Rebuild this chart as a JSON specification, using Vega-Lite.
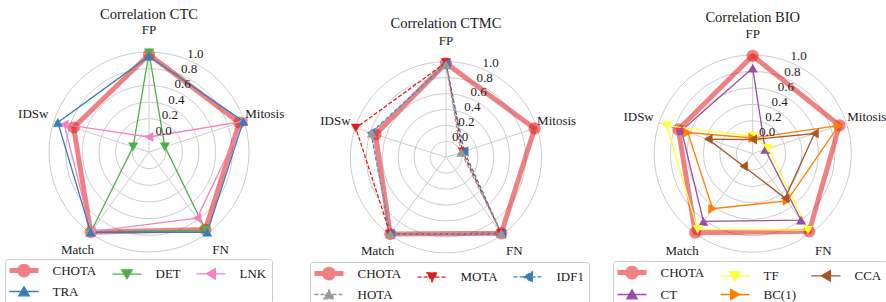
{
"$schema": "https://vega.github.io/schema/vega-lite/v6.json",
"padding": 0,
"background": "white",
"spacing": 0,
"config": {"view": {"stroke": null}, "font": "Liberation Serif, Times New Roman, DejaVu Serif, serif",
  "text": {"font": "Liberation Serif, Times New Roman, DejaVu Serif, serif", "color": "#1a1a1a"},
  "legend": {"labelFont": "Liberation Serif, Times New Roman, DejaVu Serif, serif", "labelFontSize": 13, "labelColor": "#1a1a1a", "symbolSize": 196, "columnPadding": 12, "rowPadding": -1, "labelOffset": 22, "padding": 5, "strokeColor": "#cccccc", "fillColor": "#ffffff", "cornerRadius": 3, "symbolOffset": 7.5, "labelLimit": 0, "gridAlign": "each"}},
"datasets": {
 "ticks": [{"t": 0.0}, {"t": 0.2}, {"t": 0.4}, {"t": 0.6}, {"t": 0.8}, {"t": 1.0}],
 "aspects": [{"aspect": "FP"}, {"aspect": "Mitosis"}, {"aspect": "FN"}, {"aspect": "Match"}, {"aspect": "IDSw"}],
 "ctc": [
  {"metric": "CHOTA", "aspect": "FP", "value": 0.97}, {"metric": "CHOTA", "aspect": "Mitosis", "value": 0.94}, {"metric": "CHOTA", "aspect": "FN", "value": 0.95}, {"metric": "CHOTA", "aspect": "Match", "value": 0.99}, {"metric": "CHOTA", "aspect": "IDSw", "value": 0.75},
  {"metric": "DET", "aspect": "FP", "value": 0.99}, {"metric": "DET", "aspect": "Mitosis", "value": 0.0}, {"metric": "DET", "aspect": "FN", "value": 0.96}, {"metric": "DET", "aspect": "Match", "value": 0.99}, {"metric": "DET", "aspect": "IDSw", "value": 0.0},
  {"metric": "LNK", "aspect": "FP", "value": -0.02}, {"metric": "LNK", "aspect": "Mitosis", "value": 0.99}, {"metric": "LNK", "aspect": "FN", "value": 0.78}, {"metric": "LNK", "aspect": "Match", "value": 0.98}, {"metric": "LNK", "aspect": "IDSw", "value": 0.87},
  {"metric": "TRA", "aspect": "FP", "value": 0.95}, {"metric": "TRA", "aspect": "Mitosis", "value": 0.99}, {"metric": "TRA", "aspect": "FN", "value": 0.99}, {"metric": "TRA", "aspect": "Match", "value": 0.99}, {"metric": "TRA", "aspect": "IDSw", "value": 0.95}
 ],
 "ctmc": [
  {"metric": "CHOTA", "aspect": "FP", "value": 0.98}, {"metric": "CHOTA", "aspect": "Mitosis", "value": 0.97}, {"metric": "CHOTA", "aspect": "FN", "value": 0.98}, {"metric": "CHOTA", "aspect": "Match", "value": 0.99}, {"metric": "CHOTA", "aspect": "IDSw", "value": 0.73},
  {"metric": "MOTA", "aspect": "FP", "value": 0.99}, {"metric": "MOTA", "aspect": "Mitosis", "value": 0.02}, {"metric": "MOTA", "aspect": "FN", "value": 0.98}, {"metric": "MOTA", "aspect": "Match", "value": 0.99}, {"metric": "MOTA", "aspect": "IDSw", "value": 0.99},
  {"metric": "IDF1", "aspect": "FP", "value": 0.97}, {"metric": "IDF1", "aspect": "Mitosis", "value": 0.04}, {"metric": "IDF1", "aspect": "FN", "value": 0.99}, {"metric": "IDF1", "aspect": "Match", "value": 0.99}, {"metric": "IDF1", "aspect": "IDSw", "value": 0.79},
  {"metric": "HOTA", "aspect": "FP", "value": 0.96}, {"metric": "HOTA", "aspect": "Mitosis", "value": 0.0}, {"metric": "HOTA", "aspect": "FN", "value": 0.98}, {"metric": "HOTA", "aspect": "Match", "value": 0.99}, {"metric": "HOTA", "aspect": "IDSw", "value": 0.78}
 ],
 "bio": [
  {"metric": "CHOTA", "aspect": "FP", "value": 0.99}, {"metric": "CHOTA", "aspect": "Mitosis", "value": 0.91}, {"metric": "CHOTA", "aspect": "FN", "value": 0.97}, {"metric": "CHOTA", "aspect": "Match", "value": 0.99}, {"metric": "CHOTA", "aspect": "IDSw", "value": 0.75},
  {"metric": "CT", "aspect": "FP", "value": 0.84}, {"metric": "CT", "aspect": "Mitosis", "value": -0.04}, {"metric": "CT", "aspect": "FN", "value": 0.80}, {"metric": "CT", "aspect": "Match", "value": 0.82}, {"metric": "CT", "aspect": "IDSw", "value": 0.71},
  {"metric": "TF", "aspect": "FP", "value": 0.01}, {"metric": "TF", "aspect": "Mitosis", "value": 0.0}, {"metric": "TF", "aspect": "FN", "value": 0.95}, {"metric": "TF", "aspect": "Match", "value": 0.94}, {"metric": "TF", "aspect": "IDSw", "value": 0.90},
  {"metric": "BC(1)", "aspect": "FP", "value": -0.01}, {"metric": "BC(1)", "aspect": "Mitosis", "value": 0.90}, {"metric": "BC(1)", "aspect": "FN", "value": 0.51}, {"metric": "BC(1)", "aspect": "Match", "value": 0.63}, {"metric": "BC(1)", "aspect": "IDSw", "value": 0.63},
  {"metric": "CCA", "aspect": "FP", "value": -0.03}, {"metric": "CCA", "aspect": "Mitosis", "value": 0.59}, {"metric": "CCA", "aspect": "FN", "value": 0.47}, {"metric": "CCA", "aspect": "Match", "value": -0.01}, {"metric": "CCA", "aspect": "IDSw", "value": 0.37}
 ]
},
"resolve": {"scale": {"color": "independent", "shape": "independent", "size": "independent", "x": "independent", "y": "independent"}, "legend": {"color": "independent"}},
"hconcat": [
 {"width": 297, "height": 302,
  "layer": [
   {"data": {"name": "ticks"},
    "transform": [{"calculate": "datum.t+0.2", "as": "r"}, {"calculate": "0", "as": "cx"}],
    "mark": {"type": "point", "shape": "circle", "filled": false, "color": "#cccccc", "strokeWidth": 1, "opacity": 1},
    "encoding": {
     "x": {"field": "cx", "type": "quantitative", "scale": {"domain": [-1.788, 1.776], "nice": false, "zero": false}, "axis": null},
     "y": {"field": "cx", "type": "quantitative", "scale": {"domain": [-1.8, 1.824], "nice": false, "zero": false}, "axis": null},
     "size": {"field": "r", "type": "quantitative", "scale": {"type": "pow", "exponent": 2, "domain": [0, 1.2], "range": [0, 40000], "zero": true, "nice": false}, "legend": null}}},
   {"data": {"name": "aspects"},
    "transform": [{"calculate": "indexof(['FP','Mitosis','FN','Match','IDSw'], datum.aspect)", "as": "k"}, {"calculate": "PI/2 - datum.k*2*PI/5", "as": "th"}, {"calculate": "1.2*cos(datum.th)", "as": "sx"}, {"calculate": "1.2*sin(datum.th)", "as": "sy"}, {"calculate": "0", "as": "cx"}],
    "mark": {"type": "rule", "color": "#cccccc", "strokeWidth": 1},
    "encoding": {
     "x": {"field": "cx", "type": "quantitative", "scale": {"domain": [-1.788, 1.776], "nice": false, "zero": false}, "axis": null},
     "y": {"field": "cx", "type": "quantitative", "scale": {"domain": [-1.8, 1.824], "nice": false, "zero": false}, "axis": null},
     "x2": {"field": "sx"}, "y2": {"field": "sy"}}},
   {"data": {"name": "ctc"},
    "transform": [{"filter": "datum.metric === 'CHOTA'"}, {"calculate": "indexof(['FP','Mitosis','FN','Match','IDSw'], datum.aspect)", "as": "k"}, {"calculate": "PI/2 - datum.k*2*PI/5", "as": "th"}, {"calculate": "(datum.value+0.2)*cos(datum.th)", "as": "px"}, {"calculate": "(datum.value+0.2)*sin(datum.th)", "as": "py"}],
    "mark": {"type": "line", "interpolate": "linear-closed", "strokeWidth": 5, "opacity": 0.55, "strokeJoin": "round"},
    "encoding": {
     "x": {"field": "px", "type": "quantitative", "scale": {"domain": [-1.788, 1.776], "nice": false, "zero": false}, "axis": null},
     "y": {"field": "py", "type": "quantitative", "scale": {"domain": [-1.8, 1.824], "nice": false, "zero": false}, "axis": null},
     "order": {"field": "k", "type": "quantitative"},
     "color": {"field": "metric", "type": "nominal", "scale": {"domain": ["CHOTA", "LNK", "DET", "TRA"], "range": ["#e41a1c", "#f781bf", "#4daf4a", "#377eb8"]},
      "legend": {"orient": "none", "legendX": 5, "legendY": 259, "title": null, "columns": 3,
       "encoding": {"symbols": {
        "shape": {"value": {"expr": "datum.value==='CHOTA'?'M-2.07,0H2.07M0.62,0A0.62,0.62,0,1,1,-0.62,0A0.62,0.62,0,1,1,0.62,0Z':datum.value==='DET'?'M-2.07,0H2.07M-0.74,-0.62L0.74,-0.62L0,0.66Z':datum.value==='LNK'?'M-2.07,0H2.07M0.62,-0.74L0.62,0.74L-0.66,0Z':'M-2.07,0H2.07M-0.74,0.62L0.74,0.62L0,-0.66Z'"}},
        "fill": {"value": {"expr": "datum.value==='CHOTA'?'#e41a1c':datum.value==='DET'?'#4daf4a':datum.value==='LNK'?'#f781bf':'#377eb8'"}},
        "stroke": {"value": {"expr": "datum.value==='CHOTA'?'#e41a1c':datum.value==='DET'?'#4daf4a':datum.value==='LNK'?'#f781bf':'#377eb8'"}},
        "strokeWidth": {"value": {"expr": "datum.value==='CHOTA'?5:1.3"}},
        "opacity": {"value": {"expr": "datum.value==='CHOTA'?0.55:1"}},
        "size": {"value": 196}}}}}}},
   {"data": {"name": "ctc"},
    "transform": [{"filter": "datum.metric === 'CHOTA'"}, {"calculate": "indexof(['FP','Mitosis','FN','Match','IDSw'], datum.aspect)", "as": "k"}, {"calculate": "PI/2 - datum.k*2*PI/5", "as": "th"}, {"calculate": "(datum.value+0.2)*cos(datum.th)", "as": "px"}, {"calculate": "(datum.value+0.2)*sin(datum.th)", "as": "py"}],
    "mark": {"type": "point", "filled": true, "shape": "circle", "size": 150, "opacity": 0.55},
    "encoding": {
     "x": {"field": "px", "type": "quantitative", "scale": {"domain": [-1.788, 1.776], "nice": false, "zero": false}, "axis": null},
     "y": {"field": "py", "type": "quantitative", "scale": {"domain": [-1.8, 1.824], "nice": false, "zero": false}, "axis": null},
     "color": {"field": "metric", "type": "nominal", "scale": {"domain": ["CHOTA", "LNK", "DET", "TRA"], "range": ["#e41a1c", "#f781bf", "#4daf4a", "#377eb8"]}}}},
   {"data": {"name": "ctc"},
    "transform": [{"filter": "datum.metric !== 'CHOTA'"}, {"calculate": "indexof(['FP','Mitosis','FN','Match','IDSw'], datum.aspect)", "as": "k"}, {"calculate": "PI/2 - datum.k*2*PI/5", "as": "th"}, {"calculate": "(datum.value+0.2)*cos(datum.th)", "as": "px"}, {"calculate": "(datum.value+0.2)*sin(datum.th)", "as": "py"}],
    "mark": {"type": "line", "interpolate": "linear-closed", "strokeWidth": 1.3},
    "encoding": {
     "x": {"field": "px", "type": "quantitative", "scale": {"domain": [-1.788, 1.776], "nice": false, "zero": false}, "axis": null},
     "y": {"field": "py", "type": "quantitative", "scale": {"domain": [-1.8, 1.824], "nice": false, "zero": false}, "axis": null},
     "order": {"field": "k", "type": "quantitative"},
     "color": {"field": "metric", "type": "nominal", "scale": {"domain": ["CHOTA", "LNK", "DET", "TRA"], "range": ["#e41a1c", "#f781bf", "#4daf4a", "#377eb8"]}}}},
   {"data": {"name": "ctc"},
    "transform": [{"filter": "datum.metric !== 'CHOTA'"}, {"calculate": "indexof(['FP','Mitosis','FN','Match','IDSw'], datum.aspect)", "as": "k"}, {"calculate": "PI/2 - datum.k*2*PI/5", "as": "th"}, {"calculate": "(datum.value+0.2)*cos(datum.th)", "as": "px"}, {"calculate": "(datum.value+0.2)*sin(datum.th)", "as": "py"}],
    "mark": {"type": "point", "filled": true, "size": 100, "opacity": 1},
    "encoding": {
     "x": {"field": "px", "type": "quantitative", "scale": {"domain": [-1.788, 1.776], "nice": false, "zero": false}, "axis": null},
     "y": {"field": "py", "type": "quantitative", "scale": {"domain": [-1.8, 1.824], "nice": false, "zero": false}, "axis": null},
     "shape": {"field": "metric", "type": "nominal", "scale": {"domain": ["DET", "LNK", "TRA"], "range": ["triangle-down", "triangle-left", "triangle-up"]}, "legend": null},
     "color": {"field": "metric", "type": "nominal", "scale": {"domain": ["CHOTA", "LNK", "DET", "TRA"], "range": ["#e41a1c", "#f781bf", "#4daf4a", "#377eb8"]}}}},
   {"data": {"name": "aspects"},
    "transform": [{"calculate": "indexof(['FP','Mitosis','FN','Match','IDSw'], datum.aspect)", "as": "k"}, {"calculate": "PI/2 - datum.k*2*PI/5", "as": "th"}, {"calculate": "1.46*cos(datum.th)", "as": "lx"}, {"calculate": "1.46*sin(datum.th)", "as": "ly"}],
    "mark": {"type": "text", "fontSize": 13, "align": "center", "baseline": "middle", "font": "Liberation Serif, Times New Roman, DejaVu Serif, serif"},
    "encoding": {
     "x": {"field": "lx", "type": "quantitative", "scale": {"domain": [-1.788, 1.776], "nice": false, "zero": false}, "axis": null},
     "y": {"field": "ly", "type": "quantitative", "scale": {"domain": [-1.8, 1.824], "nice": false, "zero": false}, "axis": null},
     "text": {"field": "aspect", "type": "nominal"}}},
   {"data": {"name": "ticks"},
    "transform": [{"calculate": "(datum.t+0.2)*cos(PI*3/8)", "as": "tx"}, {"calculate": "(datum.t+0.2)*sin(PI*3/8)", "as": "ty"}],
    "mark": {"type": "text", "fontSize": 13, "align": "left", "baseline": "alphabetic", "dy": -2, "font": "Liberation Serif, Times New Roman, DejaVu Serif, serif"},
    "encoding": {
     "x": {"field": "tx", "type": "quantitative", "scale": {"domain": [-1.788, 1.776], "nice": false, "zero": false}, "axis": null},
     "y": {"field": "ty", "type": "quantitative", "scale": {"domain": [-1.8, 1.824], "nice": false, "zero": false}, "axis": null},
     "text": {"field": "t", "type": "quantitative", "format": ".1f"}}},
   {"data": {"values": [{"title": "Correlation CTC"}]},
    "transform": [{"calculate": "0", "as": "hx"}, {"calculate": "1.65", "as": "hy"}],
    "mark": {"type": "text", "fontSize": 14.5, "align": "center", "baseline": "middle", "font": "Liberation Serif, Times New Roman, DejaVu Serif, serif"},
    "encoding": {
     "x": {"field": "hx", "type": "quantitative", "scale": {"domain": [-1.788, 1.776], "nice": false, "zero": false}, "axis": null},
     "y": {"field": "hy", "type": "quantitative", "scale": {"domain": [-1.8, 1.824], "nice": false, "zero": false}, "axis": null},
     "text": {"field": "title", "type": "nominal"}}}
  ]},
 {"width": 303, "height": 302,
  "layer": [
   {"data": {"name": "ticks"},
    "transform": [{"calculate": "datum.t+0.2", "as": "r"}, {"calculate": "0", "as": "cx"}],
    "mark": {"type": "point", "shape": "circle", "filled": false, "color": "#cccccc", "strokeWidth": 1, "opacity": 1},
    "encoding": {
     "x": {"field": "cx", "type": "quantitative", "scale": {"domain": [-1.870, 1.933], "nice": false, "zero": false}, "axis": null},
     "y": {"field": "cx", "type": "quantitative", "scale": {"domain": [-1.816, 1.974], "nice": false, "zero": false}, "axis": null},
     "size": {"field": "r", "type": "quantitative", "scale": {"type": "pow", "exponent": 2, "domain": [0, 1.2], "range": [0, 36557], "zero": true, "nice": false}, "legend": null}}},
   {"data": {"name": "aspects"},
    "transform": [{"calculate": "indexof(['FP','Mitosis','FN','Match','IDSw'], datum.aspect)", "as": "k"}, {"calculate": "PI/2 - datum.k*2*PI/5", "as": "th"}, {"calculate": "1.2*cos(datum.th)", "as": "sx"}, {"calculate": "1.2*sin(datum.th)", "as": "sy"}, {"calculate": "0", "as": "cx"}],
    "mark": {"type": "rule", "color": "#cccccc", "strokeWidth": 1},
    "encoding": {
     "x": {"field": "cx", "type": "quantitative", "scale": {"domain": [-1.870, 1.933], "nice": false, "zero": false}, "axis": null},
     "y": {"field": "cx", "type": "quantitative", "scale": {"domain": [-1.816, 1.974], "nice": false, "zero": false}, "axis": null},
     "x2": {"field": "sx"}, "y2": {"field": "sy"}}},
   {"data": {"name": "ctmc"},
    "transform": [{"filter": "datum.metric === 'CHOTA'"}, {"calculate": "indexof(['FP','Mitosis','FN','Match','IDSw'], datum.aspect)", "as": "k"}, {"calculate": "PI/2 - datum.k*2*PI/5", "as": "th"}, {"calculate": "(datum.value+0.2)*cos(datum.th)", "as": "px"}, {"calculate": "(datum.value+0.2)*sin(datum.th)", "as": "py"}],
    "mark": {"type": "line", "interpolate": "linear-closed", "strokeWidth": 5, "opacity": 0.55, "strokeJoin": "round"},
    "encoding": {
     "x": {"field": "px", "type": "quantitative", "scale": {"domain": [-1.870, 1.933], "nice": false, "zero": false}, "axis": null},
     "y": {"field": "py", "type": "quantitative", "scale": {"domain": [-1.816, 1.974], "nice": false, "zero": false}, "axis": null},
     "order": {"field": "k", "type": "quantitative"},
     "color": {"field": "metric", "type": "nominal", "scale": {"domain": ["CHOTA", "IDF1", "MOTA", "HOTA"], "range": ["#e41a1c", "#377eb8", "#e41a1c", "#999999"]},
      "legend": {"orient": "none", "legendX": 13, "legendY": 262, "title": null, "columns": 3,
       "encoding": {"symbols": {
        "shape": {"value": {"expr": "datum.value==='CHOTA'?'M-2.07,0H2.07M0.62,0A0.62,0.62,0,1,1,-0.62,0A0.62,0.62,0,1,1,0.62,0Z':datum.value==='MOTA'?'M-2.07,0H2.07M-0.74,-0.62L0.74,-0.62L0,0.66Z':datum.value==='IDF1'?'M-2.07,0H2.07M0.62,-0.74L0.62,0.74L-0.66,0Z':'M-2.07,0H2.07M-0.74,0.62L0.74,0.62L0,-0.66Z'"}},
        "fill": {"value": {"expr": "datum.value==='CHOTA'?'#e41a1c':datum.value==='MOTA'?'#e41a1c':datum.value==='IDF1'?'#377eb8':'#999999'"}},
        "stroke": {"value": {"expr": "datum.value==='CHOTA'?'#e41a1c':datum.value==='MOTA'?'#e41a1c':datum.value==='IDF1'?'#377eb8':'#999999'"}},
        "strokeWidth": {"value": {"expr": "datum.value==='CHOTA'?5:1.3"}},
        "strokeDash": {"value": {"expr": "datum.value==='CHOTA'?[1,0]:[4,2]"}},
        "opacity": {"value": {"expr": "datum.value==='CHOTA'?0.55:1"}},
        "size": {"value": 196}}}}}}},
   {"data": {"name": "ctmc"},
    "transform": [{"filter": "datum.metric === 'CHOTA'"}, {"calculate": "indexof(['FP','Mitosis','FN','Match','IDSw'], datum.aspect)", "as": "k"}, {"calculate": "PI/2 - datum.k*2*PI/5", "as": "th"}, {"calculate": "(datum.value+0.2)*cos(datum.th)", "as": "px"}, {"calculate": "(datum.value+0.2)*sin(datum.th)", "as": "py"}],
    "mark": {"type": "point", "filled": true, "shape": "circle", "size": 150, "opacity": 0.55},
    "encoding": {
     "x": {"field": "px", "type": "quantitative", "scale": {"domain": [-1.870, 1.933], "nice": false, "zero": false}, "axis": null},
     "y": {"field": "py", "type": "quantitative", "scale": {"domain": [-1.816, 1.974], "nice": false, "zero": false}, "axis": null},
     "color": {"field": "metric", "type": "nominal", "scale": {"domain": ["CHOTA", "IDF1", "MOTA", "HOTA"], "range": ["#e41a1c", "#377eb8", "#e41a1c", "#999999"]}}}},
   {"data": {"name": "ctmc"},
    "transform": [{"filter": "datum.metric !== 'CHOTA'"}, {"calculate": "indexof(['FP','Mitosis','FN','Match','IDSw'], datum.aspect)", "as": "k"}, {"calculate": "PI/2 - datum.k*2*PI/5", "as": "th"}, {"calculate": "(datum.value+0.2)*cos(datum.th)", "as": "px"}, {"calculate": "(datum.value+0.2)*sin(datum.th)", "as": "py"}],
    "mark": {"type": "line", "interpolate": "linear-closed", "strokeWidth": 1.3, "strokeDash": [4, 2]},
    "encoding": {
     "x": {"field": "px", "type": "quantitative", "scale": {"domain": [-1.870, 1.933], "nice": false, "zero": false}, "axis": null},
     "y": {"field": "py", "type": "quantitative", "scale": {"domain": [-1.816, 1.974], "nice": false, "zero": false}, "axis": null},
     "order": {"field": "k", "type": "quantitative"},
     "color": {"field": "metric", "type": "nominal", "scale": {"domain": ["CHOTA", "IDF1", "MOTA", "HOTA"], "range": ["#e41a1c", "#377eb8", "#e41a1c", "#999999"]}}}},
   {"data": {"name": "ctmc"},
    "transform": [{"filter": "datum.metric !== 'CHOTA'"}, {"calculate": "indexof(['FP','Mitosis','FN','Match','IDSw'], datum.aspect)", "as": "k"}, {"calculate": "PI/2 - datum.k*2*PI/5", "as": "th"}, {"calculate": "(datum.value+0.2)*cos(datum.th)", "as": "px"}, {"calculate": "(datum.value+0.2)*sin(datum.th)", "as": "py"}],
    "mark": {"type": "point", "filled": true, "size": 100, "opacity": 1},
    "encoding": {
     "x": {"field": "px", "type": "quantitative", "scale": {"domain": [-1.870, 1.933], "nice": false, "zero": false}, "axis": null},
     "y": {"field": "py", "type": "quantitative", "scale": {"domain": [-1.816, 1.974], "nice": false, "zero": false}, "axis": null},
     "shape": {"field": "metric", "type": "nominal", "scale": {"domain": ["MOTA", "IDF1", "HOTA"], "range": ["triangle-down", "triangle-left", "triangle-up"]}, "legend": null},
     "color": {"field": "metric", "type": "nominal", "scale": {"domain": ["CHOTA", "IDF1", "MOTA", "HOTA"], "range": ["#e41a1c", "#377eb8", "#e41a1c", "#999999"]}}}},
   {"data": {"name": "aspects"},
    "transform": [{"calculate": "indexof(['FP','Mitosis','FN','Match','IDSw'], datum.aspect)", "as": "k"}, {"calculate": "PI/2 - datum.k*2*PI/5", "as": "th"}, {"calculate": "1.46*cos(datum.th)", "as": "lx"}, {"calculate": "1.46*sin(datum.th)", "as": "ly"}],
    "mark": {"type": "text", "fontSize": 13, "align": "center", "baseline": "middle", "font": "Liberation Serif, Times New Roman, DejaVu Serif, serif"},
    "encoding": {
     "x": {"field": "lx", "type": "quantitative", "scale": {"domain": [-1.870, 1.933], "nice": false, "zero": false}, "axis": null},
     "y": {"field": "ly", "type": "quantitative", "scale": {"domain": [-1.816, 1.974], "nice": false, "zero": false}, "axis": null},
     "text": {"field": "aspect", "type": "nominal"}}},
   {"data": {"name": "ticks"},
    "transform": [{"calculate": "(datum.t+0.2)*cos(PI*3/8)", "as": "tx"}, {"calculate": "(datum.t+0.2)*sin(PI*3/8)", "as": "ty"}],
    "mark": {"type": "text", "fontSize": 13, "align": "left", "baseline": "alphabetic", "dy": -2, "font": "Liberation Serif, Times New Roman, DejaVu Serif, serif"},
    "encoding": {
     "x": {"field": "tx", "type": "quantitative", "scale": {"domain": [-1.870, 1.933], "nice": false, "zero": false}, "axis": null},
     "y": {"field": "ty", "type": "quantitative", "scale": {"domain": [-1.816, 1.974], "nice": false, "zero": false}, "axis": null},
     "text": {"field": "t", "type": "quantitative", "format": ".1f"}}},
   {"data": {"values": [{"title": "Correlation CTMC"}]},
    "transform": [{"calculate": "0", "as": "hx"}, {"calculate": "1.67", "as": "hy"}],
    "mark": {"type": "text", "fontSize": 14.5, "align": "center", "baseline": "middle", "font": "Liberation Serif, Times New Roman, DejaVu Serif, serif"},
    "encoding": {
     "x": {"field": "hx", "type": "quantitative", "scale": {"domain": [-1.870, 1.933], "nice": false, "zero": false}, "axis": null},
     "y": {"field": "hy", "type": "quantitative", "scale": {"domain": [-1.816, 1.974], "nice": false, "zero": false}, "axis": null},
     "text": {"field": "title", "type": "nominal"}}}
  ]},
 {"width": 286, "height": 302,
  "layer": [
   {"data": {"name": "ticks"},
    "transform": [{"calculate": "datum.t+0.2", "as": "r"}, {"calculate": "0", "as": "cx"}],
    "mark": {"type": "point", "shape": "circle", "filled": false, "color": "#cccccc", "strokeWidth": 1, "opacity": 1},
    "encoding": {
     "x": {"field": "cx", "type": "quantitative", "scale": {"domain": [-1.858, 1.622], "nice": false, "zero": false}, "axis": null},
     "y": {"field": "cx", "type": "quantitative", "scale": {"domain": [-1.806, 1.869], "nice": false, "zero": false}, "axis": null},
     "size": {"field": "r", "type": "quantitative", "scale": {"type": "pow", "exponent": 2, "domain": [0, 1.2], "range": [0, 38888], "zero": true, "nice": false}, "legend": null}}},
   {"data": {"name": "aspects"},
    "transform": [{"calculate": "indexof(['FP','Mitosis','FN','Match','IDSw'], datum.aspect)", "as": "k"}, {"calculate": "PI/2 - datum.k*2*PI/5", "as": "th"}, {"calculate": "1.2*cos(datum.th)", "as": "sx"}, {"calculate": "1.2*sin(datum.th)", "as": "sy"}, {"calculate": "0", "as": "cx"}],
    "mark": {"type": "rule", "color": "#cccccc", "strokeWidth": 1},
    "encoding": {
     "x": {"field": "cx", "type": "quantitative", "scale": {"domain": [-1.858, 1.622], "nice": false, "zero": false}, "axis": null},
     "y": {"field": "cx", "type": "quantitative", "scale": {"domain": [-1.806, 1.869], "nice": false, "zero": false}, "axis": null},
     "x2": {"field": "sx"}, "y2": {"field": "sy"}}},
   {"data": {"name": "bio"},
    "transform": [{"filter": "datum.metric === 'CHOTA'"}, {"calculate": "indexof(['FP','Mitosis','FN','Match','IDSw'], datum.aspect)", "as": "k"}, {"calculate": "PI/2 - datum.k*2*PI/5", "as": "th"}, {"calculate": "(datum.value+0.2)*cos(datum.th)", "as": "px"}, {"calculate": "(datum.value+0.2)*sin(datum.th)", "as": "py"}],
    "mark": {"type": "line", "interpolate": "linear-closed", "strokeWidth": 5, "opacity": 0.55, "strokeJoin": "round"},
    "encoding": {
     "x": {"field": "px", "type": "quantitative", "scale": {"domain": [-1.858, 1.622], "nice": false, "zero": false}, "axis": null},
     "y": {"field": "py", "type": "quantitative", "scale": {"domain": [-1.806, 1.869], "nice": false, "zero": false}, "axis": null},
     "order": {"field": "k", "type": "quantitative"},
     "color": {"field": "metric", "type": "nominal", "scale": {"domain": ["CHOTA", "CT", "TF", "BC(1)", "CCA"], "range": ["#e41a1c", "#984ea3", "#ffff33", "#ff7f00", "#a65628"]},
      "legend": {"orient": "none", "legendX": 13, "legendY": 261, "title": null, "columns": 3,
       "encoding": {"symbols": {
        "shape": {"value": {"expr": "datum.value==='CHOTA'?'M-2.07,0H2.07M0.62,0A0.62,0.62,0,1,1,-0.62,0A0.62,0.62,0,1,1,0.62,0Z':datum.value==='TF'?'M-2.07,0H2.07M-0.74,-0.62L0.74,-0.62L0,0.66Z':datum.value==='CCA'?'M-2.07,0H2.07M0.62,-0.74L0.62,0.74L-0.66,0Z':datum.value==='CT'?'M-2.07,0H2.07M-0.74,0.62L0.74,0.62L0,-0.66Z':'M-2.07,0H2.07M-0.62,-0.74L-0.62,0.74L0.66,0Z'"}},
        "fill": {"value": {"expr": "datum.value==='CHOTA'?'#e41a1c':datum.value==='TF'?'#ffff33':datum.value==='CCA'?'#a65628':datum.value==='CT'?'#984ea3':'#ff7f00'"}},
        "stroke": {"value": {"expr": "datum.value==='CHOTA'?'#e41a1c':datum.value==='TF'?'#ffff33':datum.value==='CCA'?'#a65628':datum.value==='CT'?'#984ea3':'#ff7f00'"}},
        "strokeWidth": {"value": {"expr": "datum.value==='CHOTA'?5:1.3"}},
        "opacity": {"value": {"expr": "datum.value==='CHOTA'?0.55:1"}},
        "size": {"value": 196}}}}}}},
   {"data": {"name": "bio"},
    "transform": [{"filter": "datum.metric === 'CHOTA'"}, {"calculate": "indexof(['FP','Mitosis','FN','Match','IDSw'], datum.aspect)", "as": "k"}, {"calculate": "PI/2 - datum.k*2*PI/5", "as": "th"}, {"calculate": "(datum.value+0.2)*cos(datum.th)", "as": "px"}, {"calculate": "(datum.value+0.2)*sin(datum.th)", "as": "py"}],
    "mark": {"type": "point", "filled": true, "shape": "circle", "size": 150, "opacity": 0.55},
    "encoding": {
     "x": {"field": "px", "type": "quantitative", "scale": {"domain": [-1.858, 1.622], "nice": false, "zero": false}, "axis": null},
     "y": {"field": "py", "type": "quantitative", "scale": {"domain": [-1.806, 1.869], "nice": false, "zero": false}, "axis": null},
     "color": {"field": "metric", "type": "nominal", "scale": {"domain": ["CHOTA", "CT", "TF", "BC(1)", "CCA"], "range": ["#e41a1c", "#984ea3", "#ffff33", "#ff7f00", "#a65628"]}}}},
   {"data": {"name": "bio"},
    "transform": [{"filter": "datum.metric !== 'CHOTA'"}, {"calculate": "indexof(['FP','Mitosis','FN','Match','IDSw'], datum.aspect)", "as": "k"}, {"calculate": "PI/2 - datum.k*2*PI/5", "as": "th"}, {"calculate": "(datum.value+0.2)*cos(datum.th)", "as": "px"}, {"calculate": "(datum.value+0.2)*sin(datum.th)", "as": "py"}],
    "mark": {"type": "line", "interpolate": "linear-closed", "strokeWidth": 1.3},
    "encoding": {
     "x": {"field": "px", "type": "quantitative", "scale": {"domain": [-1.858, 1.622], "nice": false, "zero": false}, "axis": null},
     "y": {"field": "py", "type": "quantitative", "scale": {"domain": [-1.806, 1.869], "nice": false, "zero": false}, "axis": null},
     "order": {"field": "k", "type": "quantitative"},
     "color": {"field": "metric", "type": "nominal", "scale": {"domain": ["CHOTA", "CT", "TF", "BC(1)", "CCA"], "range": ["#e41a1c", "#984ea3", "#ffff33", "#ff7f00", "#a65628"]}}}},
   {"data": {"name": "bio"},
    "transform": [{"filter": "datum.metric !== 'CHOTA'"}, {"calculate": "indexof(['FP','Mitosis','FN','Match','IDSw'], datum.aspect)", "as": "k"}, {"calculate": "PI/2 - datum.k*2*PI/5", "as": "th"}, {"calculate": "(datum.value+0.2)*cos(datum.th)", "as": "px"}, {"calculate": "(datum.value+0.2)*sin(datum.th)", "as": "py"}],
    "mark": {"type": "point", "filled": true, "size": 100, "opacity": 1},
    "encoding": {
     "x": {"field": "px", "type": "quantitative", "scale": {"domain": [-1.858, 1.622], "nice": false, "zero": false}, "axis": null},
     "y": {"field": "py", "type": "quantitative", "scale": {"domain": [-1.806, 1.869], "nice": false, "zero": false}, "axis": null},
     "shape": {"field": "metric", "type": "nominal", "scale": {"domain": ["TF", "CCA", "CT", "BC(1)"], "range": ["triangle-down", "triangle-left", "triangle-up", "triangle-right"]}, "legend": null},
     "color": {"field": "metric", "type": "nominal", "scale": {"domain": ["CHOTA", "CT", "TF", "BC(1)", "CCA"], "range": ["#e41a1c", "#984ea3", "#ffff33", "#ff7f00", "#a65628"]}}}},
   {"data": {"name": "aspects"},
    "transform": [{"calculate": "indexof(['FP','Mitosis','FN','Match','IDSw'], datum.aspect)", "as": "k"}, {"calculate": "PI/2 - datum.k*2*PI/5", "as": "th"}, {"calculate": "1.46*cos(datum.th)", "as": "lx"}, {"calculate": "1.46*sin(datum.th)", "as": "ly"}],
    "mark": {"type": "text", "fontSize": 13, "align": "center", "baseline": "middle", "font": "Liberation Serif, Times New Roman, DejaVu Serif, serif"},
    "encoding": {
     "x": {"field": "lx", "type": "quantitative", "scale": {"domain": [-1.858, 1.622], "nice": false, "zero": false}, "axis": null},
     "y": {"field": "ly", "type": "quantitative", "scale": {"domain": [-1.806, 1.869], "nice": false, "zero": false}, "axis": null},
     "text": {"field": "aspect", "type": "nominal"}}},
   {"data": {"name": "ticks"},
    "transform": [{"calculate": "(datum.t+0.2)*cos(PI*3/8)", "as": "tx"}, {"calculate": "(datum.t+0.2)*sin(PI*3/8)", "as": "ty"}],
    "mark": {"type": "text", "fontSize": 13, "align": "left", "baseline": "alphabetic", "dy": -2, "font": "Liberation Serif, Times New Roman, DejaVu Serif, serif"},
    "encoding": {
     "x": {"field": "tx", "type": "quantitative", "scale": {"domain": [-1.858, 1.622], "nice": false, "zero": false}, "axis": null},
     "y": {"field": "ty", "type": "quantitative", "scale": {"domain": [-1.806, 1.869], "nice": false, "zero": false}, "axis": null},
     "text": {"field": "t", "type": "quantitative", "format": ".1f"}}},
   {"data": {"values": [{"title": "Correlation BIO"}]},
    "transform": [{"calculate": "0", "as": "hx"}, {"calculate": "1.65", "as": "hy"}],
    "mark": {"type": "text", "fontSize": 14.5, "align": "center", "baseline": "middle", "font": "Liberation Serif, Times New Roman, DejaVu Serif, serif"},
    "encoding": {
     "x": {"field": "hx", "type": "quantitative", "scale": {"domain": [-1.858, 1.622], "nice": false, "zero": false}, "axis": null},
     "y": {"field": "hy", "type": "quantitative", "scale": {"domain": [-1.806, 1.869], "nice": false, "zero": false}, "axis": null},
     "text": {"field": "title", "type": "nominal"}}}
  ]}
]
}
